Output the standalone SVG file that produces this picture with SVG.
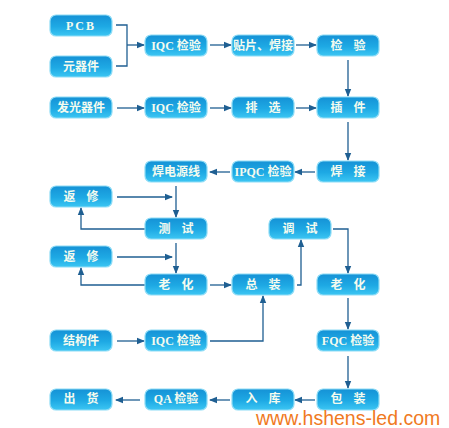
<svg xmlns="http://www.w3.org/2000/svg" width="449" height="428" viewBox="0 0 449 428">
<defs>
<linearGradient id="g" x1="0" y1="0" x2="0" y2="1">
<stop offset="0" stop-color="#1592d6"/>
<stop offset="0.55" stop-color="#1ea9e4"/>
<stop offset="1" stop-color="#3cc6f3"/>
</linearGradient>
<marker id="a" markerWidth="8" markerHeight="8" refX="7" refY="4" orient="auto" markerUnits="userSpaceOnUse">
<path d="M0,0.8 L8,4 L0,7.2 Z" fill="#1f5f92"/>
</marker>
<style>
.b{fill:url(#g);stroke:#8edcf6;stroke-width:1.2}
.t{fill:#f4fbef;font-family:"Liberation Serif","Noto Sans CJK SC",serif;font-size:12px;font-weight:bold;text-anchor:middle}
.w{letter-spacing:11px}
.c path{fill:none;stroke:#1f5f92;stroke-width:1.3}
.c .m{marker-end:url(#a)}
</style>
</defs>
<rect width="449" height="428" fill="#ffffff"/>
<g class="c">
<path d="M116,25 H127 V66 H116"/>
<path class="m" d="M127,45 H144"/>
<path class="m" d="M210,45 H231"/>
<path class="m" d="M296,45 H316"/>
<path class="m" d="M348,60 V96"/>
<path class="m" d="M117,108 H144"/>
<path class="m" d="M210,108 H231"/>
<path class="m" d="M296,108 H316"/>
<path class="m" d="M348,122 V160"/>
<path class="m" d="M315,172 H295"/>
<path class="m" d="M230,172 H210"/>
<path class="m" d="M176,186 V217"/>
<path class="m" d="M117,197 H172"/>
<path class="m" d="M145,229 H81 V208"/>
<path class="m" d="M176,243 V273"/>
<path class="m" d="M117,257 H172"/>
<path class="m" d="M145,285 H81 V268"/>
<path class="m" d="M210,285 H231"/>
<path class="m" d="M297,285 H301 V240"/>
<path class="m" d="M333,229 H348 V273"/>
<path class="m" d="M348,298 V329"/>
<path class="m" d="M117,341 H144"/>
<path class="m" d="M210,341 H263 V296"/>
<path class="m" d="M348,356 V388"/>
<path class="m" d="M315,400 H295"/>
<path class="m" d="M230,400 H210"/>
<path class="m" d="M140,400 H116"/>
</g>
<g id="pcb"><rect class="b" x="50" y="15" width="62" height="21" rx="6"/><text class="t" x="81" y="30" style="letter-spacing:2px">PCB</text></g>
<g id="yqj"><rect class="b" x="50" y="56" width="62" height="21" rx="6"/><text class="t" x="81" y="71">元器件</text></g>
<g id="iqc1"><rect class="b" x="145" y="35" width="62" height="21" rx="6"/><text class="t" x="176" y="50">IQC 检验</text></g>
<g id="tp"><rect class="b" x="232" y="35" width="62" height="21" rx="6"/><text class="t" x="263" y="50">贴片、焊接</text></g>
<g id="jy"><rect class="b" x="317" y="35" width="62" height="21" rx="6"/><text class="t w" x="353.5" y="50">检验</text></g>
<g id="fgqj"><rect class="b" x="50" y="97" width="62" height="21" rx="6"/><text class="t" x="81" y="112">发光器件</text></g>
<g id="iqc2"><rect class="b" x="145" y="97" width="62" height="21" rx="6"/><text class="t" x="176" y="112">IQC 检验</text></g>
<g id="px"><rect class="b" x="232" y="97" width="62" height="21" rx="6"/><text class="t w" x="268.5" y="112">排选</text></g>
<g id="cj"><rect class="b" x="317" y="97" width="62" height="21" rx="6"/><text class="t w" x="353.5" y="112">插件</text></g>
<g id="hdyx"><rect class="b" x="145" y="161" width="62" height="21" rx="6"/><text class="t" x="176" y="176">焊电源线</text></g>
<g id="ipqc"><rect class="b" x="232" y="161" width="62" height="21" rx="6"/><text class="t" x="263" y="176">IPQC 检验</text></g>
<g id="hj"><rect class="b" x="317" y="161" width="62" height="21" rx="6"/><text class="t w" x="353.5" y="176">焊接</text></g>
<g id="fx1"><rect class="b" x="50" y="186" width="62" height="21" rx="6"/><text class="t w" x="86.5" y="201">返修</text></g>
<g id="cs"><rect class="b" x="145" y="218" width="62" height="21" rx="6"/><text class="t w" x="181.5" y="233">测试</text></g>
<g id="ts"><rect class="b" x="269" y="218" width="62" height="21" rx="6"/><text class="t w" x="305.5" y="233">调试</text></g>
<g id="fx2"><rect class="b" x="50" y="246" width="62" height="21" rx="6"/><text class="t w" x="86.5" y="261">返修</text></g>
<g id="lh1"><rect class="b" x="145" y="274" width="62" height="21" rx="6"/><text class="t w" x="181.5" y="289">老化</text></g>
<g id="zz"><rect class="b" x="232" y="274" width="62" height="21" rx="6"/><text class="t w" x="268.5" y="289">总装</text></g>
<g id="lh2"><rect class="b" x="317" y="274" width="62" height="21" rx="6"/><text class="t w" x="353.5" y="289">老化</text></g>
<g id="jgj"><rect class="b" x="50" y="330" width="62" height="21" rx="6"/><text class="t" x="81" y="345">结构件</text></g>
<g id="iqc3"><rect class="b" x="145" y="330" width="62" height="21" rx="6"/><text class="t" x="176" y="345">IQC 检验</text></g>
<g id="fqc"><rect class="b" x="317" y="330" width="62" height="21" rx="6"/><text class="t" x="348" y="345">FQC 检验</text></g>
<g id="ch"><rect class="b" x="50" y="389" width="62" height="21" rx="6"/><text class="t w" x="86.5" y="403">出货</text></g>
<g id="qa"><rect class="b" x="145" y="389" width="62" height="21" rx="6"/><text class="t" x="176" y="403">QA 检验</text></g>
<g id="rk"><rect class="b" x="232" y="389" width="62" height="21" rx="6"/><text class="t w" x="268.5" y="403">入库</text></g>
<g id="bz"><rect class="b" x="317" y="389" width="62" height="21" rx="6"/><text class="t w" x="353.5" y="403">包装</text></g>
<text x="256" y="425" style="font-family:'Liberation Sans',Arial,sans-serif;font-size:19.5px;fill:#f07a1e">www.hshens-led.com</text>
</svg>
